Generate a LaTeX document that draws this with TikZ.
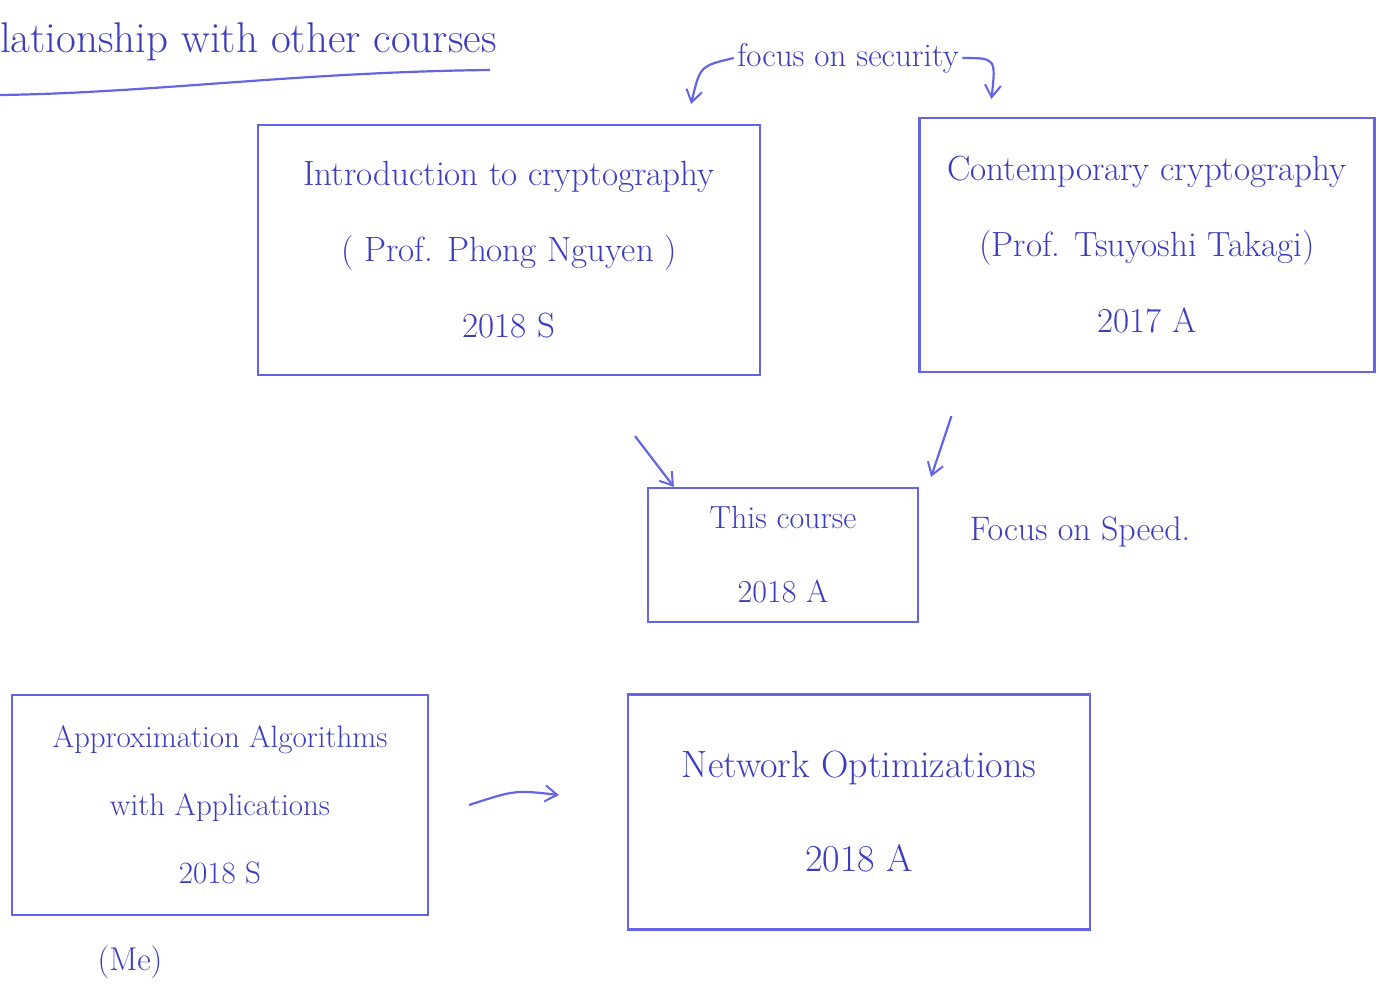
\documentclass[tikz,border=0pt]{standalone}
\usepackage{tikz}
\usetikzlibrary{arrows.meta}
\usepackage{xcolor}
\definecolor{pen}{RGB}{100,100,228}
\definecolor{ink}{RGB}{60,60,190}

\begin{document}
\begin{tikzpicture}[x=1pt,y=-1pt,
  course/.style={draw=pen,line width=2.2pt,rectangle,align=center,text=ink,font=\fontsize{35}{76}\selectfont},
  note/.style={text=ink,font=\fontsize{33}{38}\selectfont},
  link/.style={-{Straight Barb[length=12pt,width=16pt,line width=2pt]},draw=pen,line width=2.2pt}]
  \useasboundingbox (0,0) rectangle (1379,988);
  % heading
  \node[note,anchor=west,inner sep=0pt,font=\fontsize{43}{48}\selectfont] (title) at (0,42) {lationship with other courses};
  \draw[pen,line width=2.2pt] (0,95) .. controls (150,93) and (300,72) .. (490,70);
  % the courses
  \node[course,minimum width=502,minimum height=250] (intro) at (509,250) {Introduction to cryptography\\( Prof. Phong Nguyen )\\2018 S};
  \node[course,minimum width=455,minimum height=254] (contemp) at (1147,245) {Contemporary cryptography\\(Prof. Tsuyoshi Takagi)\\2017 A};
  \node[course,minimum width=270,minimum height=134,font=\fontsize{32}{74}\selectfont] (this) at (783,555) {This course\\2018 A};
  \node[course,minimum width=416,minimum height=220,font=\fontsize{31}{68}\selectfont] (approx) at (220,805) {Approximation Algorithms\\with Applications\\2018 S};
  \node[course,minimum width=462,minimum height=235,font=\fontsize{38}{76}\selectfont] (netopt) at (859,812) {Network Optimizations\\[18pt]2018 A};
  % notes
  \node[note] (sec) at (848,58) {focus on security};
  \node[note,font=\fontsize{34}{40}\selectfont] (speed) at (1080,532) {Focus on Speed.};
  \node[note] (me) at (130,962) {(Me)};
  % arrows
  \draw[link] (sec.west) .. controls (700,66) .. ([xshift=-70pt,yshift=20pt]intro.north east);
  \draw[link] (sec.east) .. controls (996,58) .. ([xshift=73pt,yshift=18pt]contemp.north west);
  \draw[link] ([xshift=126pt,yshift=-60pt]intro.south) -- ([xshift=27pt]this.north west);
  \draw[link] ([xshift=33pt,yshift=-43pt]contemp.south west) -- ([xshift=12pt,yshift=10pt]this.north east);
  \draw[link] ([xshift=40pt]approx.east) .. controls (515,790) .. ([xshift=-68pt,yshift=17pt]netopt.west);
\end{tikzpicture}
\end{document}
